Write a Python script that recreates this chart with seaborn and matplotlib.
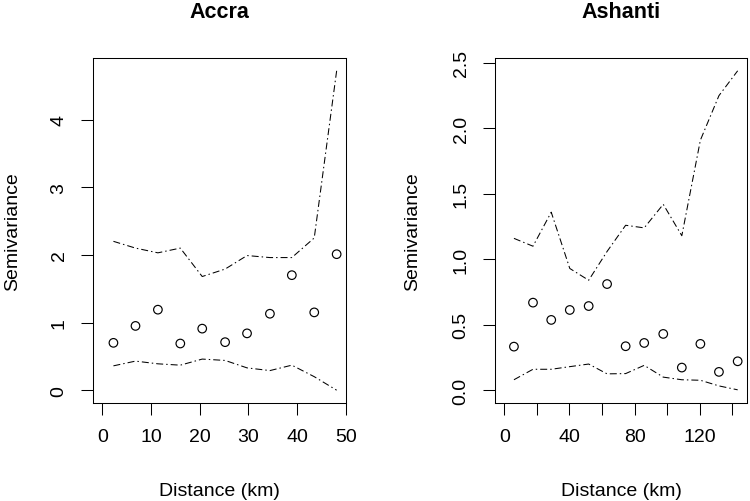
import matplotlib
matplotlib.use("Agg")
import matplotlib.pyplot as plt
import seaborn as sns
import numpy as np

# ---- data ----
accra_dist = [2.27, 6.8, 11.4, 16.0, 20.5, 25.2, 29.7, 34.4, 38.9, 43.5, 48.1]
accra_gamma = [0.70, 0.95, 1.19, 0.69, 0.91, 0.71, 0.84, 1.13, 1.70, 1.15, 2.01]
accra_upper = [2.20, 2.10, 2.03, 2.10, 1.68, 1.79, 1.99, 1.96, 1.96, 2.25, 4.72]
accra_lower = [0.36, 0.43, 0.39, 0.37, 0.46, 0.44, 0.33, 0.29, 0.37, 0.20, 0.00]

ash_dist = [5.9, 17.6, 28.8, 40.2, 51.8, 63.1, 74.5, 85.9, 97.6, 109.0, 120.4, 131.8, 143.3]
ash_gamma = [0.333, 0.669, 0.537, 0.613, 0.643, 0.811, 0.336, 0.361, 0.430, 0.173, 0.354, 0.140, 0.221]
ash_upper = [1.16, 1.10, 1.36, 0.93, 0.84, 1.06, 1.26, 1.24, 1.42, 1.18, 1.91, 2.25, 2.44]
ash_lower = [0.08, 0.16, 0.16, 0.18, 0.20, 0.125, 0.127, 0.19, 0.10, 0.08, 0.076, 0.033, 0.003]

titles = ["Accra", "Ashanti"]
xlabel = "Distance (km)"
ylabel = "Semivariance"
accra_xticks = [0, 10, 20, 30, 40, 50]
accra_xticklabels = ["0", "10", "20", "30", "40", "50"]
accra_yticks = [0, 1, 2, 3, 4]
accra_yticklabels = ["0", "1", "2", "3", "4"]
ash_xticks = [0, 20, 40, 60, 80, 100, 120, 140]
ash_xticklabels = ["0", "", "40", "", "80", "", "120", ""]
ash_yticks = [0.0, 0.5, 1.0, 1.5, 2.0, 2.5]
ash_yticklabels = ["0.0", "0.5", "1.0", "1.5", "2.0", "2.5"]

sns.set_theme(style="ticks")
plt.rcParams["font.family"] = ["Liberation Sans", "DejaVu Sans"]

W, H = 750, 502
fig = plt.figure(figsize=(7.5, 5.02), dpi=100, facecolor="white")

def px_axes(l, t, r, b):
    return fig.add_axes([l / W, 1 - b / H, (r - l) / W, (b - t) / H])

ax1 = px_axes(93, 59, 346, 404)
ax2 = px_axes(495, 59, 747, 404)

dash = (0, (6.7, 2.9, 1.4, 2.9))

def panel(ax, d, g, up, lo, xlim, ylim, xt, xtl, yt, ytl):
    sns.lineplot(x=d, y=up, ax=ax, color="black", linewidth=0.75, linestyle=dash)
    sns.lineplot(x=d, y=lo, ax=ax, color="black", linewidth=0.75, linestyle=dash)
    sns.scatterplot(x=d, y=g, ax=ax, s=38, marker="o", facecolor="none",
                    edgecolor="black", linewidth=0.85, zorder=3)
    ax.set_xlim(*xlim)
    ax.set_ylim(*ylim)
    ax.set_xticks(xt)
    ax.set_xticklabels(xtl)
    ax.set_yticks(yt)
    ax.set_yticklabels(ytl, rotation=90, va="center")
    ax.tick_params(axis="both", direction="out", length=8.3, width=0.75,
                   color="black", labelsize=14, labelcolor="black")
    ax.tick_params(axis="x", pad=10)
    ax.tick_params(axis="y", pad=10)
    for sp in ax.spines.values():
        sp.set_visible(True)
        sp.set_color("black")
        sp.set_linewidth(0.75)
    ax.set_xlabel("")
    ax.set_ylabel("")
    ax.set_facecolor("white")

panel(ax1, accra_dist, accra_gamma, accra_upper, accra_lower,
      (-1.924, 50.02), (-0.189, 4.909),
      accra_xticks, accra_xticklabels, accra_yticks, accra_yticklabels)
panel(ax2, ash_dist, ash_gamma, ash_upper, ash_lower,
      (-5.73, 149.03), (-0.0976, 2.5376),
      ash_xticks, ash_xticklabels, ash_yticks, ash_yticklabels)

for cx, ylx, title in [(219.5, 12.5, titles[0]), (621, 413, titles[1])]:
    fig.text(cx / W, 1 - 18.3 / H, title, ha="center", va="baseline",
             fontsize=15.5, fontweight="bold", color="black")
    fig.text(cx / W, 1 - 496.5 / H, xlabel, ha="center", va="baseline",
             fontsize=14, color="black")
    fig.text(ylx / W, 1 - 231.5 / H, ylabel, ha="center", va="center",
             rotation=90, fontsize=14, color="black")

fig.savefig("out.png", dpi=100, facecolor="white")
